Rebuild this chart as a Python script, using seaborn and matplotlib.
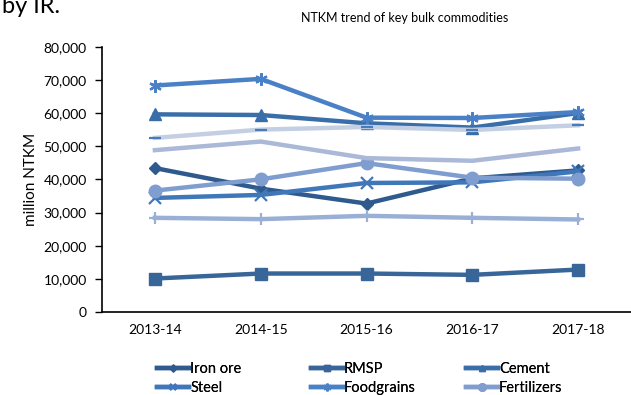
import matplotlib
matplotlib.use("Agg")
import matplotlib.pyplot as plt
import seaborn as sns
import pandas as pd
from matplotlib.ticker import FuncFormatter

years = ["2013-14", "2014-15", "2015-16", "2016-17", "2017-18"]

iron_ore = [43400, 37200, 32700, 40300, 42700]
rmsp = [10100, 11600, 11600, 11200, 12800]
cement = [59600, 59400, 56900, 55600, 60000]
steel = [34400, 35300, 38900, 39100, 42400]
foodgrains = [68300, 70300, 58600, 58500, 60300]
fertilizers = [36600, 40000, 44900, 40500, 40200]
series7 = [28400, 28000, 29000, 28400, 27900]
series8 = [52500, 55000, 55800, 54900, 56300]
series9 = [48800, 51400, 46400, 45600, 49300]

names = ["Iron ore", "RMSP", "Cement", "Steel", "Foodgrains", "Fertilizers",
         "_s7", "_s8", "_s9"]
values = [iron_ore, rmsp, cement, steel, foodgrains, fertilizers,
          series7, series8, series9]
colors = ["#2e5a8e", "#386698", "#3a6ea9", "#4077b9", "#4a80c5", "#7f9dcf",
          "#9aafd6", "#c4cfe3", "#aab9d7"]
markers = ["D", "s", "^", "x", (6, 2, 0), "o", "+", "_", None]
msizes = [6, 8, 8, 8, 9, 9, 8, 8, 0]

plt.rcParams["font.family"] = ["Lato", "DejaVu Sans"]

fig = plt.figure(figsize=(6.31, 3.95), dpi=100)
ax = fig.add_axes([102 / 631, 1 - 312 / 395, 1 - 102 / 631, (312 - 46.7) / 395])

handles = {}
for name, vals, col, mk, ms in zip(names, values, colors, markers, msizes):
    df = pd.DataFrame({"year": years, "v": vals})
    kw = dict(linewidth=3.2, color=col, ax=ax, label=name, legend=False)
    if mk is not None:
        kw.update(marker=mk, markersize=ms,
                  markeredgewidth=1.6 if mk in ("x", "+", "_", (6, 2, 0)) else 1,
                  markeredgecolor=col if mk != "_" else "#4a7ab8", markerfacecolor=col)
    sns.lineplot(data=df, x="year", y="v", sort=False, **kw)
    handles[name] = ax.lines[-1]

ax.set_xlim(-0.5, 4.5)
ax.set_ylim(0, 80000)
ax.set_yticks(range(0, 80001, 10000))
ax.yaxis.set_major_formatter(FuncFormatter(lambda v, p: f"{int(v):,}"))
ax.tick_params(axis="y", direction="out", length=5, width=1, labelsize=10, pad=6)
ax.tick_params(axis="x", length=0, labelsize=10, pad=9)
for s in ["top", "right"]:
    ax.spines[s].set_visible(False)
for s in ["left", "bottom"]:
    ax.spines[s].set_linewidth(1.2)
ax.set_xlabel("")
ax.set_ylabel("million NTKM", fontsize=11, labelpad=4)
ax.grid(False)

fig.text(405 / 631, 1 - 18 / 395, "NTKM trend of key bulk commodities",
         ha="center", va="center", fontsize=9)
fig.text(0.003, 1 - 13 / 395, "by IR.", ha="left", va="baseline", fontsize=17)

columns = [["Iron ore", "Steel"], ["RMSP", "Foodgrains"], ["Cement", "Fertilizers"]]
col_x = [150, 304, 459]
for cx, labs in zip(col_x, columns):
    leg = fig.legend([handles[n] for n in labs], labs, ncol=1,
                     loc="upper left", bbox_to_anchor=(cx / 631, 1 - 355 / 395),
                     frameon=False, fontsize=10.5, handlelength=2.2, handletextpad=0.05,
                     labelspacing=0.3, borderpad=0, markerscale=0.6)
    fig.add_artist(leg)

fig.savefig("out.png", dpi=100)
